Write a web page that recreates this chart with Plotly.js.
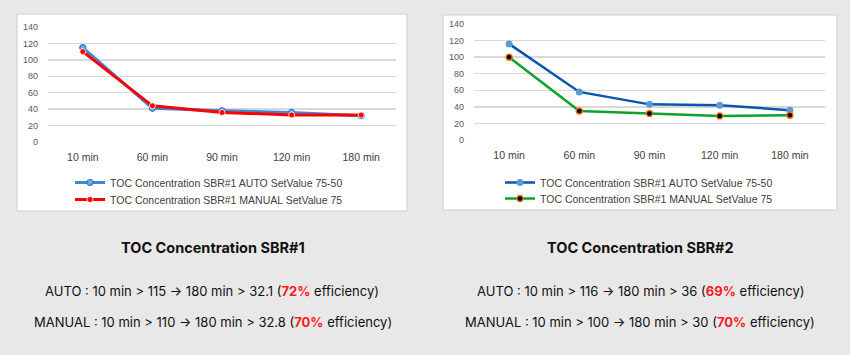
<!DOCTYPE html>
<html>
<head>
<meta charset="utf-8">
<script src="https://cdn.plot.ly/plotly-3.0.1.min.js"></script>
<style>html,body{margin:0;padding:0;background:#e8e8e8;}#chart{width:850px;height:355px;}</style>
</head>
<body>
<div id="chart"></div>
<script>
const categories = ["10 min", "60 min", "90 min", "120 min", "180 min"];
const sbr1Auto = [115, 41, 38, 36, 32.1];
const sbr1Manual = [110, 44, 36, 33, 32.8];
const sbr2Auto = [116, 58, 43, 42, 36];
const sbr2Manual = [100, 35, 32, 29, 30];
const seriesNames = ["TOC Concentration SBR#1 AUTO SetValue 75-50", "TOC Concentration SBR#1 MANUAL SetValue 75"];
const yTicks = [0, 20, 40, 60, 80, 100, 120, 140];

const W = 850, H = 355;
const px = v => v / W, py = v => 1 - v / H;

const traces = [
  {x: categories, y: sbr1Auto, name: seriesNames[0], type: 'scatter', mode: 'lines+markers',
   xaxis: 'x', yaxis: 'y', legend: 'legend',
   line: {color: '#3a8ad6', width: 3}, marker: {size: 6, color: '#6aaee6', line: {color: '#2f78c8', width: 1.2}}},
  {x: categories, y: sbr1Manual, name: seriesNames[1], type: 'scatter', mode: 'lines+markers',
   xaxis: 'x', yaxis: 'y', legend: 'legend2',
   line: {color: '#ff0000', width: 3}, marker: {size: 6, color: '#ff0000', line: {color: '#ffffff', width: 0.8}}},
  {x: categories, y: sbr2Auto, name: seriesNames[0], type: 'scatter', mode: 'lines+markers',
   xaxis: 'x2', yaxis: 'y2', legend: 'legend3',
   line: {color: '#0a55b0', width: 2.5}, marker: {size: 7, color: '#5b9bd5'}},
  {x: categories, y: sbr2Manual, name: seriesNames[1], type: 'scatter', mode: 'lines+markers',
   xaxis: 'x2', yaxis: 'y2', legend: 'legend4',
   line: {color: '#12a02a', width: 2.5}, marker: {size: 6, color: '#000000', line: {color: '#f07010', width: 1.3}}}
];

const xCommon = {type: 'category', range: [-0.5, 4.5], showgrid: false, zeroline: false, showline: false,
  ticks: '', ticklabelstandoff: 7, tickfont: {family: 'Liberation Sans, Arial', size: 10.5, color: '#404040'}, fixedrange: true};
const yCommon = {range: [0, 140], tickvals: yTicks, showgrid: true, gridcolor: '#d9d9d9', gridwidth: 1.5,
  zeroline: false, showline: false, ticks: '', ticklabelstandoff: 9,
  tickfont: {family: 'Liberation Sans, Arial', size: 9, color: '#595959'}, fixedrange: true};

const legendCommon = {orientation: 'v', bgcolor: 'rgba(0,0,0,0)', font: {family: 'Liberation Sans, Arial', size: 10.5, color: '#404040'},
  itemwidth: 30, tracegroupgap: 0, yanchor: 'top', xanchor: 'left'};

const textFont = {family: 'Inter, Roboto, sans-serif', size: 13, color: '#111111'};
function eff(v) { return '<span style="color:#ff1a1a"><b>' + v + '</b></span>'; }

const layout = {
  width: W, height: H,
  margin: {l: 0, r: 0, t: 0, b: 0},
  paper_bgcolor: '#e8e8e8', plot_bgcolor: 'rgba(0,0,0,0)',
  showlegend: true,
  xaxis: Object.assign({}, xCommon, {domain: [px(48), px(396)], anchor: 'y'}),
  yaxis: Object.assign({}, yCommon, {domain: [py(142), py(27)], anchor: 'x'}),
  xaxis2: Object.assign({}, xCommon, {domain: [px(474), px(825)], anchor: 'y2'}),
  yaxis2: Object.assign({}, yCommon, {domain: [py(140), py(24)], anchor: 'x2'}),
  legend: Object.assign({}, legendCommon, {x: px(70), y: py(168)}),
  legend2: Object.assign({}, legendCommon, {x: px(70), y: py(185)}),
  legend3: Object.assign({}, legendCommon, {x: px(500), y: py(168)}),
  legend4: Object.assign({}, legendCommon, {x: px(500), y: py(184)}),
  shapes: [
    {type: 'rect', xref: 'paper', yref: 'paper', x0: px(17), x1: px(407), y0: py(211), y1: py(14),
     fillcolor: '#ffffff', line: {color: '#cfcfcf', width: 1}, layer: 'below'},
    {type: 'rect', xref: 'paper', yref: 'paper', x0: px(443), x1: px(837), y0: py(210), y1: py(15),
     fillcolor: '#ffffff', line: {color: '#cfcfcf', width: 1}, layer: 'below'}
  ],
  annotations: [
    {xref: 'paper', yref: 'paper', x: px(213), y: py(247), showarrow: false, xanchor: 'center', yanchor: 'middle',
     text: '<b>TOC Concentration SBR#1</b>', font: Object.assign({}, textFont, {size: 14.5})},
    {xref: 'paper', yref: 'paper', x: px(212), y: py(291), showarrow: false, xanchor: 'center', yanchor: 'middle',
     text: 'AUTO : 10 min &gt; 115 → 180 min &gt; 32.1 (' + eff('72%') + ' efficiency)', font: textFont},
    {xref: 'paper', yref: 'paper', x: px(213), y: py(322), showarrow: false, xanchor: 'center', yanchor: 'middle',
     text: 'MANUAL : 10 min &gt; 110 → 180 min &gt; 32.8 (' + eff('70%') + ' efficiency)', font: textFont},
    {xref: 'paper', yref: 'paper', x: px(640), y: py(247), showarrow: false, xanchor: 'center', yanchor: 'middle',
     text: '<b>TOC Concentration SBR#2</b>', font: Object.assign({}, textFont, {size: 14.5})},
    {xref: 'paper', yref: 'paper', x: px(640), y: py(291), showarrow: false, xanchor: 'center', yanchor: 'middle',
     text: 'AUTO : 10 min &gt; 116 → 180 min &gt; 36 (' + eff('69%') + ' efficiency)', font: textFont},
    {xref: 'paper', yref: 'paper', x: px(640), y: py(322), showarrow: false, xanchor: 'center', yanchor: 'middle',
     text: 'MANUAL : 10 min &gt; 100 → 180 min &gt; 30 (' + eff('70%') + ' efficiency)', font: textFont}
  ]
};

Plotly.newPlot('chart', traces, layout, {displayModeBar: false, staticPlot: true});
</script>
</body>
</html>
